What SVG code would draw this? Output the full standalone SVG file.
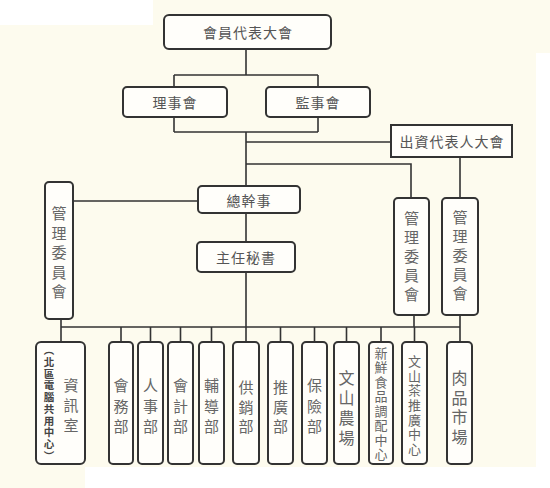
<svg xmlns="http://www.w3.org/2000/svg" width="550" height="488" viewBox="0 0 550 488">
<style>
.bx{fill:#fffefa;stroke:#333;stroke-width:2}
.ln{fill:none;stroke:#333;stroke-width:1.6}
text{font-family:"Noto Sans CJK TC","Noto Sans CJK SC",sans-serif;fill:#555;dominant-baseline:central;text-anchor:middle}
.h{font-size:14px;letter-spacing:1px}
.v{font-size:15px;fill:#666}
.s{font-size:13px;fill:#666}
.m{font-size:16px;fill:#666}
.p{font-size:10.5px;font-weight:bold;fill:#444}
</style>
<rect x="0" y="0" width="550" height="488" fill="#fdfbee"/>
<rect x="0" y="0" width="153" height="25" fill="#ffffff"/>
<rect x="536" y="53" width="14" height="435" fill="#ffffff"/>
<rect x="85" y="467" width="465" height="21" fill="#ffffff"/>
<g id="connectors">
<path class="ln" d="M246 49V75M174 75H318M174 75V87M318 75V88M174 117V132M318 117V132M174 132H318"/>
<path class="ln" d="M246 132V186M246 213V242M246 272V327"/>
<path class="ln" d="M246 142H391M246 164H411V198M460 157V198M73 201H198"/>
<path class="ln" d="M61 319V342M414 315V327M460 315V342M61 327H460"/>
<path class="ln" d="M121 327V342M150.5 327V342M180.5 327V342M211.5 327V342M246 327V342M280.5 327V342M314.5 327V342M346.5 327V342M381 327V342M414.5 327V342"/>
</g>
<g id="n_general"><rect class="bx" x="164" y="15" width="167" height="34" rx="5"/><text class="h" x="248" y="32">會員代表大會</text></g>
<g id="n_board"><rect class="bx" x="123" y="87" width="104" height="30" rx="4"/><text class="h" x="175" y="102">理事會</text></g>
<g id="n_supervisor"><rect class="bx" x="266" y="87" width="104" height="30" rx="4"/><text class="h" x="318" y="102">監事會</text></g>
<g id="n_investor"><rect class="bx" x="391" y="125" width="121" height="32"/><text class="h" x="452" y="141">出資代表人大會</text></g>
<g id="n_gm"><rect class="bx" x="198" y="186" width="102" height="27" rx="4"/><text class="h" x="249" y="199.5">總幹事</text></g>
<g id="n_secretary"><rect class="bx" x="197" y="242" width="98" height="30" rx="4"/><text class="h" x="246" y="257">主任秘書</text></g>
<g id="n_mgmt_left"><rect class="bx" x="45" y="182" width="28" height="137" rx="4"/><text class="v"><tspan x="59" y="212">管</tspan><tspan x="59" y="231.5">理</tspan><tspan x="59" y="251">委</tspan><tspan x="59" y="270.5">員</tspan><tspan x="59" y="290">會</tspan></text></g>
<g id="n_mgmt_r1"><rect class="bx" x="394" y="198" width="35" height="117" rx="4"/><text class="v"><tspan x="411.5" y="217">管</tspan><tspan x="411.5" y="236">理</tspan><tspan x="411.5" y="255">委</tspan><tspan x="411.5" y="274">員</tspan><tspan x="411.5" y="293">會</tspan></text></g>
<g id="n_mgmt_r2"><rect class="bx" x="442" y="198" width="36" height="117" rx="4"/><text class="v"><tspan x="460" y="216">管</tspan><tspan x="460" y="235">理</tspan><tspan x="460" y="254">委</tspan><tspan x="460" y="273">員</tspan><tspan x="460" y="292">會</tspan></text></g>
<g id="n_it"><rect class="bx" x="36" y="342" width="49" height="122" rx="5"/><text class="p"><tspan x="49" y="349">︵</tspan><tspan x="49" y="360.8">北</tspan><tspan x="49" y="372.6">區</tspan><tspan x="49" y="384.3">電</tspan><tspan x="49" y="396.1">腦</tspan><tspan x="49" y="407.9">共</tspan><tspan x="49" y="419.7">用</tspan><tspan x="49" y="431.4">中</tspan><tspan x="49" y="443.2">心</tspan><tspan x="49" y="455">︶</tspan></text><text class="v"><tspan x="71" y="384">資</tspan><tspan x="71" y="404">訊</tspan><tspan x="71" y="424">室</tspan></text></g>
<g id="n_affairs"><rect class="bx" x="109" y="342" width="24" height="122" rx="4"/><text class="v"><tspan x="121" y="384">會</tspan><tspan x="121" y="404.5">務</tspan><tspan x="121" y="425">部</tspan></text></g>
<g id="n_hr"><rect class="bx" x="138" y="342" width="25" height="122" rx="4"/><text class="v"><tspan x="150.5" y="384">人</tspan><tspan x="150.5" y="404.5">事</tspan><tspan x="150.5" y="425">部</tspan></text></g>
<g id="n_acct"><rect class="bx" x="168" y="342" width="25" height="122" rx="4"/><text class="v"><tspan x="180.5" y="384">會</tspan><tspan x="180.5" y="404.5">計</tspan><tspan x="180.5" y="425">部</tspan></text></g>
<g id="n_guide"><rect class="bx" x="199" y="342" width="25" height="122" rx="4"/><text class="v"><tspan x="211.5" y="384">輔</tspan><tspan x="211.5" y="404.5">導</tspan><tspan x="211.5" y="425">部</tspan></text></g>
<g id="n_supply"><rect class="bx" x="233" y="342" width="26" height="122" rx="4"/><text class="v"><tspan x="246" y="386">供</tspan><tspan x="246" y="405.5">銷</tspan><tspan x="246" y="425">部</tspan></text></g>
<g id="n_promo"><rect class="bx" x="268" y="342" width="25" height="122" rx="4"/><text class="v"><tspan x="280.5" y="386">推</tspan><tspan x="280.5" y="405.5">廣</tspan><tspan x="280.5" y="425">部</tspan></text></g>
<g id="n_insur"><rect class="bx" x="302" y="342" width="25" height="122" rx="4"/><text class="v"><tspan x="314.5" y="384">保</tspan><tspan x="314.5" y="404.5">險</tspan><tspan x="314.5" y="425">部</tspan></text></g>
<g id="n_farm"><rect class="bx" x="334" y="342" width="25" height="122" rx="4"/><text class="m"><tspan x="346.5" y="377">文</tspan><tspan x="346.5" y="397">山</tspan><tspan x="346.5" y="417">農</tspan><tspan x="346.5" y="437">場</tspan></text></g>
<g id="n_fresh"><rect class="bx" x="369" y="342" width="24" height="122" rx="4"/><text class="s"><tspan x="381" y="352">新</tspan><tspan x="381" y="366.4">鮮</tspan><tspan x="381" y="380.9">食</tspan><tspan x="381" y="395.3">品</tspan><tspan x="381" y="409.7">調</tspan><tspan x="381" y="424.1">配</tspan><tspan x="381" y="438.6">中</tspan><tspan x="381" y="453">心</tspan></text></g>
<g id="n_tea"><rect class="bx" x="402" y="342" width="25" height="122" rx="4"/><text class="s"><tspan x="414.5" y="360">文</tspan><tspan x="414.5" y="374.7">山</tspan><tspan x="414.5" y="389.3">茶</tspan><tspan x="414.5" y="404">推</tspan><tspan x="414.5" y="418.7">廣</tspan><tspan x="414.5" y="433.3">中</tspan><tspan x="414.5" y="448">心</tspan></text></g>
<g id="n_meat"><rect class="bx" x="447" y="342" width="25" height="122" rx="4"/><text class="m"><tspan x="459.5" y="377">肉</tspan><tspan x="459.5" y="396.5">品</tspan><tspan x="459.5" y="416">市</tspan><tspan x="459.5" y="435.5">場</tspan></text></g>
</svg>
